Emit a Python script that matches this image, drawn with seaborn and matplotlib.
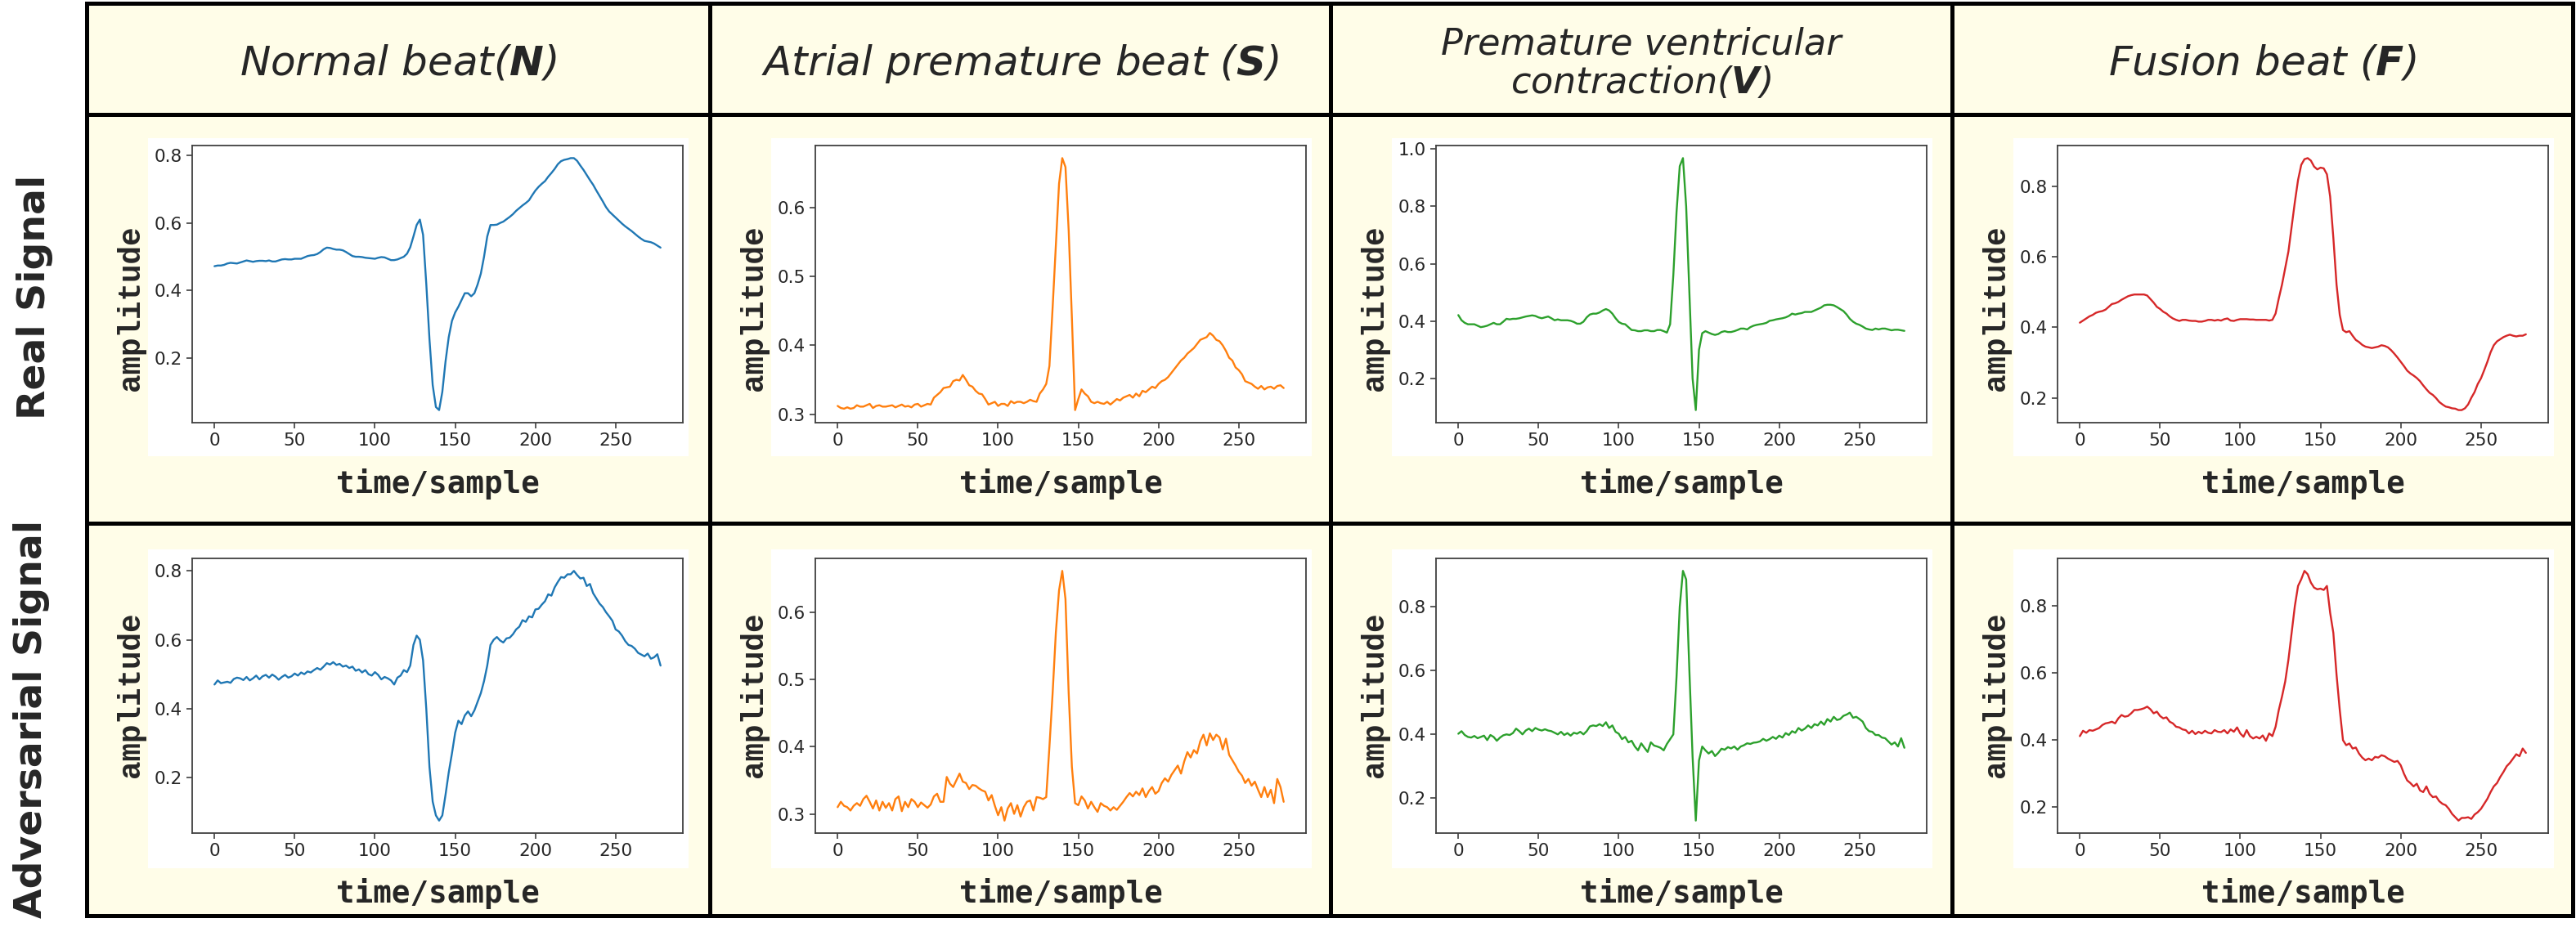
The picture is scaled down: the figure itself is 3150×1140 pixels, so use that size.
import matplotlib
matplotlib.use('Agg')
import matplotlib.pyplot as plt
import seaborn as sns
from matplotlib.lines import Line2D
from matplotlib.patches import Rectangle

# Estilo base
sns.set_theme(style='ticks')
plt.rcParams['font.family'] = ['DejaVu Sans']
plt.rcParams['mathtext.fontset'] = 'custom'
plt.rcParams['mathtext.rm'] = 'DejaVu Sans:italic'
plt.rcParams['mathtext.it'] = 'DejaVu Sans:italic'
plt.rcParams['mathtext.bf'] = 'DejaVu Sans:italic:bold'

# Eje x: una muestra cada 2
muestras = list(range(0, 280, 2))

# Señales reales
real_N = [.472, .474, .474, .476, .480, .482, .481, .480, .483, .486,
          .489, .487, .485, .487, .488, .488, .487, .489, .486, .486,
          .489, .492, .493, .492, .492, .494, .494, .494, .498, .502,
          .504, .505, .508, .514, .522, .527, .526, .523, .521, .521,
          .519, .514, .508, .502, .500, .500, .499, .497, .496, .495,
          .494, .497, .499, .498, .494, .490, .490, .492, .496, .500,
          .509, .528, .560, .594, .610, .565, .420, .255, .120, .055,
          .046, .100, .190, .262, .310, .335, .352, .372, .392, .392,
          .383, .392, .418, .450, .500, .560, .594, .594, .595, .600,
          .604, .611, .618, .626, .636, .644, .652, .659, .667, .682,
          .696, .707, .716, .724, .737, .748, .760, .774, .783, .787,
          .789, .792, .792, .784, .770, .757, .742, .727, .713, .696,
          .680, .664, .647, .634, .625, .616, .607, .598, .590, .583,
          .576, .568, .560, .553, .547, .545, .543, .539, .533, .527]

real_S = [.312, .309, .308, .310, .308, .309, .313, .311, .311, .313,
          .315, .309, .312, .313, .311, .311, .312, .313, .310, .312,
          .314, .311, .312, .310, .314, .315, .311, .313, .315, .314,
          .324, .328, .332, .338, .339, .340, .348, .350, .349, .357,
          .350, .342, .340, .334, .330, .329, .322, .314, .316, .318,
          .312, .315, .315, .312, .319, .316, .318, .318, .316, .318,
          .321, .319, .318, .330, .336, .344, .370, .455, .545, .635,
          .672, .659, .567, .440, .306, .322, .336, .330, .326, .318,
          .316, .318, .316, .315, .318, .314, .318, .322, .320, .324,
          .326, .328, .324, .330, .326, .334, .332, .336, .340, .338,
          .344, .348, .350, .354, .360, .366, .372, .378, .382, .388,
          .392, .396, .402, .408, .410, .412, .418, .414, .408, .406,
          .400, .392, .382, .378, .368, .364, .358, .348, .346, .344,
          .340, .337, .341, .336, .339, .340, .337, .341, .342, .338]

real_V = [.421, .403, .394, .389, .389, .389, .384, .379, .381, .384,
          .389, .394, .389, .389, .398, .408, .406, .408, .408, .410,
          .413, .416, .418, .420, .418, .413, .410, .413, .416, .410,
          .403, .406, .403, .403, .403, .401, .397, .391, .391, .398,
          .413, .423, .426, .426, .430, .437, .442, .437, .426, .410,
          .397, .391, .389, .379, .369, .368, .365, .365, .368, .368,
          .365, .365, .369, .369, .365, .360, .389, .560, .780, .940,
          .968, .800, .500, .200, .090, .300, .358, .365, .360, .355,
          .352, .355, .362, .365, .362, .362, .365, .369, .374, .374,
          .371, .379, .384, .387, .389, .391, .394, .401, .403, .406,
          .408, .410, .413, .418, .426, .423, .426, .428, .432, .432,
          .432, .437, .442, .447, .455, .457, .457, .455, .449, .442,
          .435, .423, .408, .398, .391, .387, .381, .374, .371, .369,
          .374, .371, .374, .374, .371, .368, .370, .370, .368, .366]

real_F = [.413, .419, .425, .431, .435, .441, .444, .446, .450, .458,
          .466, .468, .472, .478, .483, .488, .491, .493, .493, .493,
          .493, .490, .480, .470, .458, .452, .444, .439, .431, .425,
          .421, .418, .421, .421, .419, .418, .418, .416, .416, .418,
          .421, .421, .419, .421, .419, .423, .425, .419, .418, .421,
          .423, .423, .423, .422, .422, .421, .421, .421, .421, .419,
          .421, .439, .482, .521, .568, .615, .685, .755, .818, .861,
          .877, .880, .873, .856, .848, .853, .851, .834, .771, .654,
          .521, .435, .392, .386, .389, .376, .364, .358, .350, .345,
          .343, .341, .343, .345, .349, .347, .343, .335, .325, .314,
          .302, .290, .277, .269, .263, .256, .247, .235, .224, .214,
          .208, .199, .188, .181, .175, .173, .170, .169, .165, .165,
          .170, .181, .200, .216, .239, .255, .278, .302, .329, .349,
          .360, .366, .372, .376, .379, .376, .374, .376, .376, .380]

# Señales adversarias
adv_N = [.470, .482, .474, .476, .478, .475, .486, .490, .488, .483,
         .492, .482, .488, .496, .485, .494, .498, .490, .499, .493,
         .484, .492, .498, .490, .494, .502, .496, .505, .500, .508,
         .505, .512, .518, .513, .522, .532, .528, .535, .527, .530,
         .522, .525, .518, .522, .510, .514, .505, .512, .500, .496,
         .506, .498, .485, .492, .488, .482, .470, .490, .496, .512,
         .506, .525, .585, .612, .600, .540, .400, .230, .130, .090,
         .075, .090, .150, .215, .270, .330, .365, .355, .380, .392,
         .378, .395, .420, .445, .480, .525, .585, .600, .608, .598,
         .592, .604, .606, .616, .630, .638, .657, .652, .668, .665,
         .688, .690, .702, .712, .732, .728, .752, .768, .782, .780,
         .790, .790, .800, .788, .778, .780, .756, .762, .735, .720,
         .705, .695, .680, .668, .655, .630, .624, .612, .596, .585,
         .582, .574, .562, .557, .552, .560, .545, .549, .558, .525]

adv_S = [.310, .318, .312, .310, .305, .312, .316, .312, .322, .327,
         .318, .308, .320, .305, .318, .309, .316, .305, .322, .326,
         .304, .318, .310, .322, .318, .310, .317, .313, .309, .314,
         .326, .330, .318, .318, .355, .345, .340, .350, .360, .348,
         .346, .337, .343, .342, .338, .335, .333, .320, .328, .312,
         .298, .310, .290, .308, .316, .300, .313, .296, .310, .318,
         .320, .305, .325, .324, .322, .325, .400, .480, .570, .633,
         .662, .620, .480, .370, .316, .313, .326, .320, .308, .318,
         .310, .303, .316, .312, .310, .305, .310, .306, .312, .318,
         .325, .331, .326, .333, .328, .338, .325, .334, .340, .330,
         .334, .346, .353, .348, .358, .365, .372, .360, .378, .392,
         .384, .395, .390, .408, .418, .402, .420, .410, .418, .414,
         .396, .412, .388, .380, .372, .363, .357, .346, .352, .342,
         .348, .336, .325, .340, .325, .336, .316, .352, .340, .318]

adv_V = [.402, .410, .398, .392, .390, .395, .388, .392, .396, .382,
         .398, .392, .380, .390, .397, .400, .398, .404, .418, .410,
         .400, .412, .418, .410, .420, .415, .412, .416, .412, .410,
         .405, .400, .408, .398, .404, .396, .405, .402, .408, .400,
         .410, .425, .428, .426, .432, .426, .438, .420, .428, .408,
         .402, .385, .392, .375, .380, .362, .350, .372, .358, .345,
         .375, .365, .362, .358, .350, .370, .385, .400, .580, .800,
         .912, .885, .600, .330, .130, .318, .362, .350, .340, .348,
         .332, .342, .355, .352, .360, .356, .362, .352, .362, .366,
         .372, .370, .374, .375, .378, .386, .380, .385, .392, .386,
         .396, .390, .404, .398, .410, .405, .420, .412, .418, .428,
         .420, .432, .428, .440, .430, .448, .440, .455, .445, .448,
         .458, .462, .468, .452, .455, .448, .440, .420, .410, .408,
         .398, .398, .390, .388, .378, .368, .375, .362, .388, .358]

adv_F = [.412, .428, .422, .430, .428, .432, .436, .445, .450, .452,
         .455, .450, .465, .475, .470, .472, .480, .490, .490, .492,
         .495, .500, .492, .480, .485, .472, .465, .468, .455, .450,
         .440, .438, .432, .430, .420, .428, .418, .425, .420, .428,
         .422, .420, .430, .425, .424, .430, .420, .432, .425, .438,
         .420, .410, .430, .412, .405, .410, .405, .414, .398, .420,
         .412, .440, .490, .530, .575, .640, .720, .800, .860, .880,
         .905, .895, .870, .855, .850, .852, .848, .860, .780, .720,
         .595, .490, .400, .385, .390, .375, .378, .360, .348, .340,
         .345, .340, .350, .348, .355, .352, .345, .340, .335, .338,
         .325, .300, .280, .272, .262, .270, .250, .245, .262, .240,
         .230, .232, .218, .210, .206, .195, .180, .170, .160, .168,
         .168, .170, .165, .178, .185, .195, .210, .225, .245, .262,
         .272, .290, .305, .322, .332, .345, .358, .352, .375, .362]

titulos = [r'Normal beat($\mathbf{N}$)',
           r'Atrial premature beat ($\mathbf{S}$)',
           'Premature ventricular\ncontraction($\\mathbf{V}$)',
           r'Fusion beat ($\mathbf{F}$)']
filas_txt = ['Real Signal', 'Adversarial Signal']
senales = [[real_N, real_S, real_V, real_F],
           [adv_N, adv_S, adv_V, adv_F]]
colores = sns.color_palette('tab10', 4)

# Geometría de la tabla (pixeles)
W, H = 3150, 1140
crema = '#fffde8'
cols = [106, 868, 1627, 2387, 3146]
filas = [4, 140, 640, 1120]
ejes_y = [(178, 517), (683, 1019)]
caja_y = [(169, 558), (672, 1062)]
amp_y = [377, 850]
tiempo_y = [592, 1093]
fila_txt_pos = [(43, 363), (39, 879)]


def rect(x0, y0, x1, y1):
    return [x0 / W, 1 - y1 / H, (x1 - x0) / W, (y1 - y0) / H]


fig = plt.figure(figsize=(W / 100, H / 100), dpi=100, facecolor='white')

# Fondo crema de la tabla
fig.add_artist(Rectangle((cols[0] / W, 1 - filas[-1] / H),
                         (cols[-1] - cols[0]) / W, (filas[-1] - filas[0]) / H,
                         transform=fig.transFigure, facecolor=crema,
                         edgecolor='none', zorder=-3))

for f in range(2):
    for c in range(4):
        cl = cols[c]
        # recuadro blanco de cada grafico
        x0, y0, w, h = rect(cl + 75, caja_y[f][0], cl + 736, caja_y[f][1])
        fig.add_artist(Rectangle((x0, y0), w, h, transform=fig.transFigure,
                                 facecolor='white', edgecolor='none', zorder=-2))

        ax = fig.add_axes(rect(cl + 129, ejes_y[f][0], cl + 729, ejes_y[f][1]))
        sns.lineplot(x=muestras, y=senales[f][c], ax=ax, color=colores[c],
                     linewidth=1.7)
        ax.set_facecolor('white')
        ax.set_xlabel('')
        ax.set_ylabel('')
        ax.set_xticks([0, 50, 100, 150, 200, 250])
        for s in ax.spines.values():
            s.set_color('#404040')
            s.set_linewidth(1.3)
        ax.tick_params(labelsize=15.5, colors='#404040', labelcolor='#262626',
                       length=5, width=1.2)

        fig.text((cl + 54) / W, 1 - amp_y[f] / H, 'amplitude', rotation=90,
                 family='Liberation Mono', fontweight='bold', fontsize=27,
                 ha='center', va='center')
        fig.text((cl + 429) / W, 1 - tiempo_y[f] / H, 'time/sample',
                 family='DejaVu Sans Mono', fontweight='bold', fontsize=27,
                 ha='center', va='center')

# Títulos de columnas
for c, t in enumerate(titulos):
    xc = (cols[c] + cols[c + 1]) / 2
    tam = 32 if '\n' in t else 36
    fig.text(xc / W, 1 - 78 / H, t, fontsize=tam, style='italic',
             ha='center', va='center', linespacing=1.1)

# Títulos de filas
for (px, py), t in zip(fila_txt_pos, filas_txt):
    fig.text(px / W, 1 - py / H, t, rotation=90, fontsize=34,
             fontweight='bold', ha='center', va='center')

# Bordes de la tabla
for x in cols:
    fig.add_artist(Line2D([x / W, x / W], [1 - filas[0] / H, 1 - filas[-1] / H],
                          transform=fig.transFigure, color='black', lw=3.6,
                          solid_capstyle='projecting', zorder=5))
for y in filas:
    fig.add_artist(Line2D([cols[0] / W, cols[-1] / W], [1 - y / H, 1 - y / H],
                          transform=fig.transFigure, color='black', lw=3.6,
                          solid_capstyle='projecting', zorder=5))

fig.savefig('out.png', dpi=100, facecolor='white')
